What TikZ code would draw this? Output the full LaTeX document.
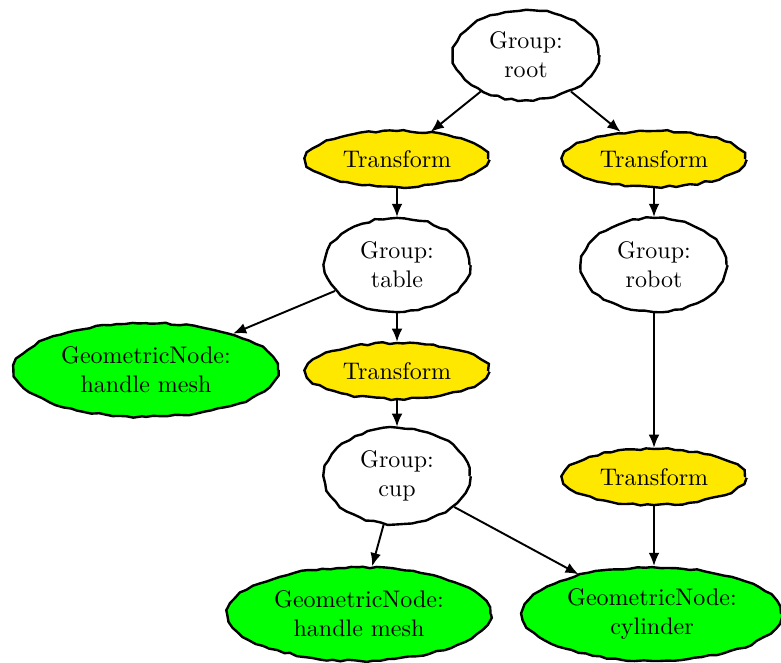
\documentclass[tikz,border=0pt]{standalone}
\usetikzlibrary{shapes.geometric,decorations.pathmorphing,arrows.meta}
\definecolor{tyellow}{RGB}{255,232,0}
\definecolor{tgreen}{RGB}{0,255,0}
\tikzset{
  rough/.style={draw=black, line width=1pt, decorate,
    decoration={random steps, segment length=3pt, amplitude=0.45pt}},
  groupnode/.style={rough, ellipse, fill=white, inner sep=0pt,
    minimum width=60.4pt, minimum height=39pt, align=center},
  transnode/.style={rough, ellipse, fill=tyellow, inner sep=0pt,
    minimum width=75.8pt, minimum height=23.3pt},
  geonode/.style={rough, ellipse, fill=tgreen, inner sep=0pt,
    minimum width=109.5pt, minimum height=39pt, align=center},
  conn/.style={-{Latex[length=5.5pt,width=4.5pt]}, line width=0.8pt}
}
\begin{document}
\pgfmathsetseed{7}
\begin{tikzpicture}[x=0.4165pt,y=-0.4165pt]
\useasboundingbox (0,0) rectangle (781,662);
\node[groupnode, minimum height=37.5pt] (root) at (526,55) {Group:\\root};
\node[transnode] (t1) at (397,159) {Transform};
\node[transnode] (t2) at (654,159) {Transform};
\node[groupnode] (table) at (397,265) {Group:\\table};
\node[groupnode] (robot) at (654,265) {Group:\\robot};
\node[geonode, minimum width=110pt] (g1) at (146,370) {GeometricNode:\\handle mesh};
\node[transnode] (t3) at (397,371) {Transform};
\node[groupnode, minimum height=40pt] (cup) at (397,476) {Group:\\cup};
\node[transnode] (t4) at (654,477) {Transform};
\node[geonode] (g2) at (359,614) {GeometricNode:\\handle mesh};
\node[geonode, minimum width=107.5pt] (g3) at (652,614) {GeometricNode:\\cylinder};
\draw[conn] (root) -- (t1);
\draw[conn] (root) -- (t2);
\draw[conn] (t1) -- (table);
\draw[conn] (t2) -- (robot);
\draw[conn] (table) -- (g1);
\draw[conn] (table) -- (t3);
\draw[conn] (t3) -- (cup);
\draw[conn] (robot) -- (t4);
\draw[conn] (t4.south) -- (t4.south |- g3.north);
\draw[conn] (cup) -- (g2);
\draw[conn] (cup) -- (g3);
\end{tikzpicture}
\end{document}
